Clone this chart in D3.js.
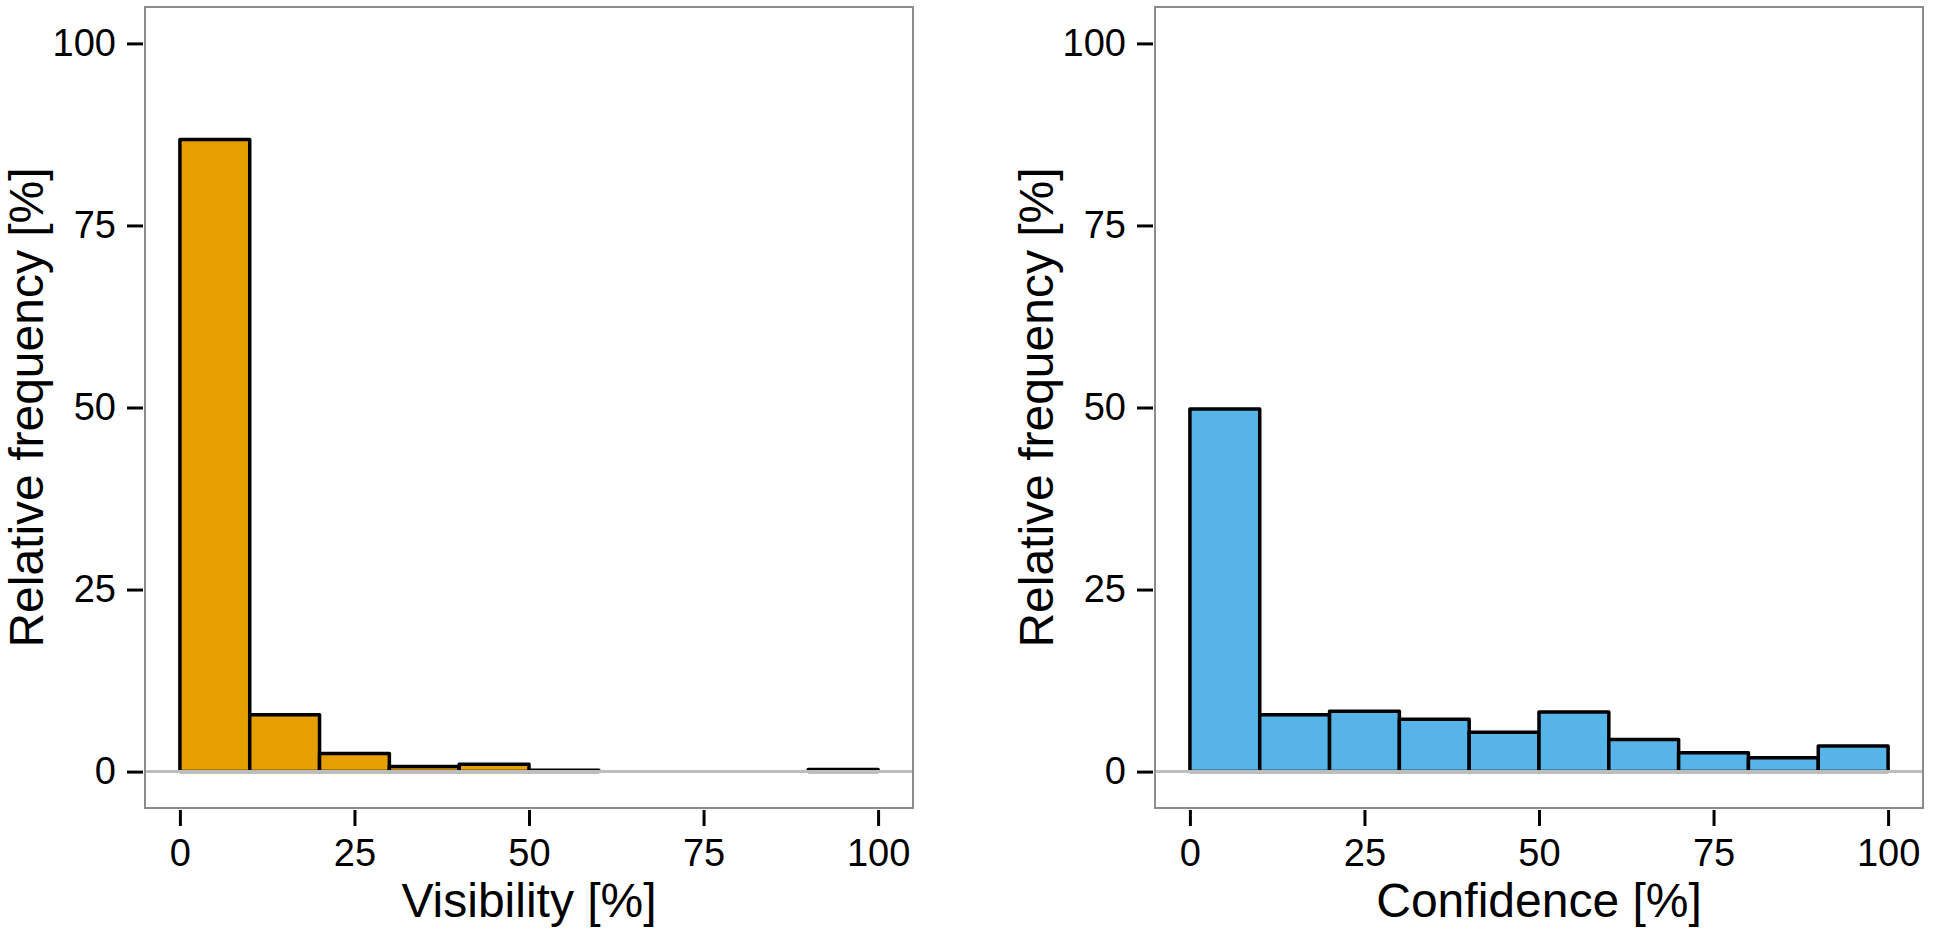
<!DOCTYPE html>
<html>
<head>
<meta charset="utf-8">
<script src="https://cdn.jsdelivr.net/npm/d3@7"></script>
<style>
  html, body { margin: 0; padding: 0; background: #fff; }
  svg text { font-family: "Liberation Sans", Arial, sans-serif; fill: #000; }
</style>
</head>
<body>
<svg id="chart" width="1933" height="933"></svg>
<script>
// Histogram bins (percent), shared by both panels
const binStarts = [0, 10, 20, 30, 40, 50, 60, 70, 80, 90];
const binWidth = 10;

// Relative frequency per bin
const visibilityFreq = [86.8, 7.8, 2.5, 0.7, 1.0, 0.2, 0, 0, 0, 0.3];
const confidenceFreq = [49.8, 7.8, 8.3, 7.2, 5.4, 8.2, 4.4, 2.6, 1.9, 3.5];

const tickValues = [0, 25, 50, 75, 100];
const yLabel = 'Relative frequency [%]';

const svg = d3.select('#chart');

// Draw one histogram panel
function drawPanel(left, values, fill, xTitle) {
  const top = 7, width = 768, height = 801;
  const g = svg.append('g').attr('transform', `translate(${left},${top})`);

  const x = d3.scaleLinear().domain([-5, 105]).range([0, width]);
  const y = d3.scaleLinear().domain([-5, 105]).range([height, 0]);

  const data = binStarts.map((b, i) => ({ x0: b, x1: b + binWidth, v: values[i] }));

  // bars (empty bins are not drawn)
  g.selectAll('rect.bar')
    .data(data.filter(d => d.v > 0))
    .enter()
    .append('rect')
    .attr('class', 'bar')
    .attr('x', d => x(d.x0))
    .attr('width', d => x(d.x1) - x(d.x0))
    .attr('y', d => y(d.v))
    .attr('height', d => y(0) - y(d.v))
    .attr('fill', fill)
    .attr('stroke', '#000')
    .attr('stroke-width', 3.5)
    .attr('stroke-linejoin', 'round');

  // grey baseline at zero
  g.append('line')
    .attr('x1', 0).attr('x2', width)
    .attr('y1', y(0)).attr('y2', y(0))
    .attr('stroke', '#bdbdbd')
    .attr('stroke-width', 3);

  // panel border
  g.append('rect')
    .attr('x', 0).attr('y', 0)
    .attr('width', width).attr('height', height)
    .attr('fill', 'none')
    .attr('stroke', '#8c8c8c')
    .attr('stroke-width', 2);

  // axes
  const xAxis = g.append('g')
    .attr('transform', `translate(0,${height + 2})`)
    .call(d3.axisBottom(x).tickValues(tickValues).tickSize(16).tickPadding(13));
  const yAxis = g.append('g')
    .attr('transform', 'translate(-2,0)')
    .call(d3.axisLeft(y).tickValues(tickValues).tickSize(16).tickPadding(11));

  [xAxis, yAxis].forEach(a => {
    a.select('.domain').remove();
    a.selectAll('.tick line').attr('stroke', '#000').attr('stroke-width', 3);
    a.selectAll('.tick text')
      .attr('fill', '#000')
      .style('font-size', '38px')
      .style('font-family', '"Liberation Sans", Arial, sans-serif');
  });

  // axis titles
  g.append('text')
    .attr('x', width / 2)
    .attr('y', 910)
    .attr('text-anchor', 'middle')
    .style('font-size', '48px')
    .text(xTitle);

  g.append('text')
    .attr('transform', `translate(-102,${height / 2}) rotate(-90)`)
    .attr('text-anchor', 'middle')
    .style('font-size', '48px')
    .text(yLabel);
}

drawPanel(145, visibilityFreq, '#E69F00', 'Visibility [%]');
drawPanel(1155, confidenceFreq, '#56B4E9', 'Confidence [%]');
</script>
</body>
</html>
